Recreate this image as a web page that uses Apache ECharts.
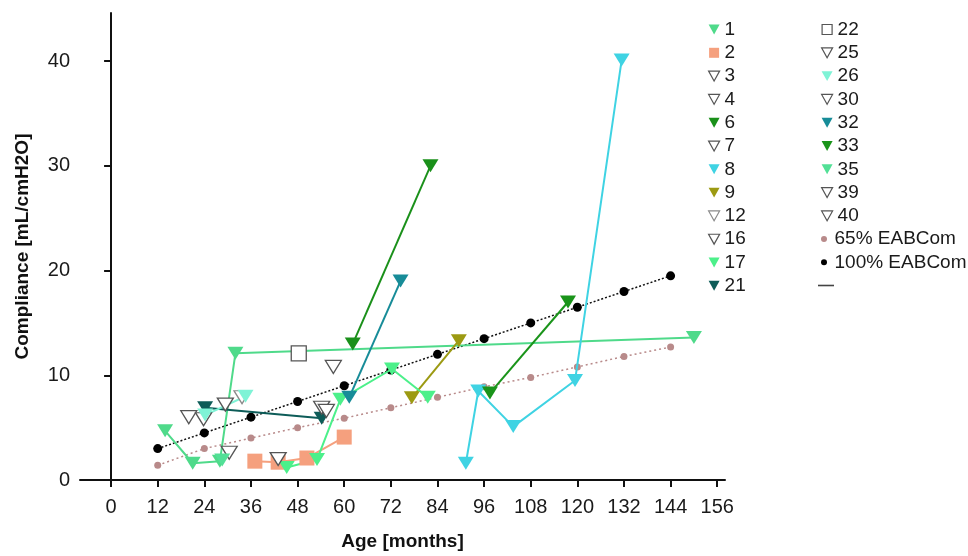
<!DOCTYPE html>
<html><head><meta charset="utf-8">
<script src="https://cdn.jsdelivr.net/npm/echarts@6/dist/echarts.min.js"></script>
<style>html,body{margin:0;padding:0;background:#fff}#c{width:968px;height:556px}</style>
</head><body><div id="c"></div>
<script>
// ---- data ----
const xTicks = [0,12,24,36,48,60,72,84,96,108,120,132,144,156];
const yTicks = [0,10,20,30,40];
const eabMonths = [12,24,36,48,60,72,84,96,108,120,132,144];
const eab100 = [3.0,4.5,6.0,7.5,9.0,10.5,12.0,13.5,15.0,16.5,18.0,19.5];
const eab65  = [1.4,3.0,4.0,5.0,5.9,6.9,7.9,8.9,9.8,10.8,11.8,12.7];

const p1  = [[13.9,4.7],[21,1.6],[28,1.8],[32,12.1],[150,13.6]];
const p2  = [[37,1.8],[43,1.7],[50.4,2.1],[60,4.1]];
const p3  = [[20,6.0]];
const p4  = [[23.8,5.8]];
const p6  = [[62.2,13.0],[82.2,30.0]];
const p7  = [[29.4,7.2]];
const p8  = [[91.3,1.6],[94.5,8.5],[103.5,5.1],[119.4,9.5],[131.4,40.1]];
const p9  = [[77.4,7.85],[89.5,13.3]];
const p12 = [[33.7,7.9]];
const p16 = [[30.4,2.6]];
const p17 = [[45.2,1.2],[53,1.95],[59,7.7],[72.3,10.6],[81.5,7.9]];
const p21 = [[24.2,6.9],[54.2,5.9]];
const p22 = [[48.3,12.1]];
const p25 = [[43,2.0]];
const p26 = [[24.2,6.2],[34.6,8.0]];
const p30 = [[54.2,6.9]];
const p32 = [[61.3,7.9],[74.5,19.0]];
const p33 = [[97.5,8.3],[117.6,17.0]];
const p35 = [[28.6,1.9]];
const p39 = [[55.4,6.6]];
const p40 = [[57.2,10.8]];

const legendCol1 = ['1','2','3','4','6','7','8','9','12','16','17','21'];
const legendCol2 = ['22','25','26','30','32','33','35','39','40'];

// ---- styling ----
const patients = [
  {name:'1',  data:p1,  kind:'tri',  color:'#4fda8a'},
  {name:'2',  data:p2,  kind:'sq',   color:'#f5a07e'},
  {name:'3',  data:p3,  kind:'open', color:'#555'},
  {name:'4',  data:p4,  kind:'open', color:'#555'},
  {name:'6',  data:p6,  kind:'tri',  color:'#1a901a'},
  {name:'7',  data:p7,  kind:'open', color:'#555'},
  {name:'8',  data:p8,  kind:'tri',  color:'#3fd3e3'},
  {name:'9',  data:p9,  kind:'tri',  color:'#9c9a12'},
  {name:'12', data:p12, kind:'open', color:'#8a8a8a'},
  {name:'16', data:p16, kind:'open', color:'#555'},
  {name:'17', data:p17, kind:'tri',  color:'#4cf08a'},
  {name:'21', data:p21, kind:'tri',  color:'#0d5c58'},
  {name:'22', data:p22, kind:'opensq', color:'#555'},
  {name:'25', data:p25, kind:'open', color:'#555'},
  {name:'26', data:p26, kind:'tri',  color:'#7ff3d6'},
  {name:'30', data:p30, kind:'open', color:'#555'},
  {name:'32', data:p32, kind:'tri',  color:'#178c98'},
  {name:'33', data:p33, kind:'tri',  color:'#1a941a'},
  {name:'35', data:p35, kind:'tri',  color:'#52e096'},
  {name:'39', data:p39, kind:'open', color:'#555'},
  {name:'40', data:p40, kind:'open', color:'#555'}
];

const TRI = 'path://M0,0L10,0L5,9Z';
const SQ = 'path://M0,0H10V10H0Z';
const FONT = 'Arial, "Liberation Sans", Helvetica, sans-serif';

const series = [];
const legendItem = {};
patients.forEach(p => {
  const s = {
    name: p.name, type: 'line', data: p.data, z: 3,
    showSymbol: true, animation: false,
    lineStyle: {color: p.color, width: 2},
    emphasis: {disabled: true}
  };
  if (p.kind === 'tri') {
    s.symbol = 'triangle'; s.symbolRotate = 180; s.symbolSize = [16, 13];
    s.itemStyle = {color: p.color};
    legendItem[p.name] = {name: p.name, icon: TRI, itemStyle: {color: p.color, borderWidth: 0}};
  } else if (p.kind === 'open') {
    s.symbol = 'triangle'; s.symbolRotate = 180; s.symbolSize = [16, 13];
    s.itemStyle = {color: '#fff', borderColor: p.color, borderWidth: 1.3};
    legendItem[p.name] = {name: p.name, icon: TRI, itemStyle: {color: '#fff', borderColor: p.color, borderWidth: 1.2}};
  } else if (p.kind === 'sq') {
    s.symbol = 'rect'; s.symbolSize = 15;
    s.itemStyle = {color: p.color};
    legendItem[p.name] = {name: p.name, icon: SQ, itemStyle: {color: p.color, borderWidth: 0}};
  } else {
    s.symbol = 'rect'; s.symbolSize = 15;
    s.itemStyle = {color: '#fff', borderColor: p.color, borderWidth: 1.3};
    legendItem[p.name] = {name: p.name, icon: SQ, itemStyle: {color: '#fff', borderColor: p.color, borderWidth: 1.2}};
  }
  series.push(s);
});

series.unshift({
  name: '65% EABCom', type: 'line', z: 2, animation: false,
  data: eabMonths.map((m, i) => [m, eab65[i]]),
  symbol: 'circle', symbolSize: 7,
  itemStyle: {color: '#b88a8a'},
  lineStyle: {color: '#b88a8a', width: 1.5, type: [2, 3]}
});
series.unshift({
  name: '100% EABCom', type: 'line', z: 2, animation: false,
  data: eabMonths.map((m, i) => [m, eab100[i]]),
  symbol: 'circle', symbolSize: 9,
  itemStyle: {color: '#000'},
  lineStyle: {color: '#111', width: 1.5, type: [2, 2]}
});
series.push({name: ' ', type: 'line', data: [], lineStyle: {color: '#444'}, itemStyle: {color: '#444'}});

const legendText = {fontSize: 19, color: '#1a1a1a', fontFamily: FONT};
const legendBase = {orient: 'vertical', padding: 0, itemGap: 4.3, itemWidth: 11, itemHeight: 10,
  textStyle: legendText, selectedMode: false, symbolKeepAspect: true};

const option = {
  backgroundColor: '#fff',
  animation: false,
  grid: {left: 80, right: 243, top: 13, bottom: 74},
  xAxis: {
    type: 'value', min: -8, max: 158,
    name: 'Age [months]', nameLocation: 'middle', nameGap: 52,
    nameTextStyle: {fontSize: 19, fontWeight: 'bold', color: '#111', fontFamily: FONT},
    axisLine: {show: true, lineStyle: {color: '#111', width: 2}},
    axisTick: {show: true, length: 7, lineStyle: {color: '#111', width: 2}, customValues: xTicks},
    axisLabel: {fontSize: 20, color: '#1a1a1a', margin: 17, fontFamily: FONT, customValues: xTicks},
    splitLine: {show: false}
  },
  yAxis: {
    type: 'value', min: 0, max: 44.6,
    name: 'Compliance [mL/cmH2O]', nameLocation: 'middle', nameGap: 48,
    nameTextStyle: {fontSize: 19, fontWeight: 'bold', color: '#111', fontFamily: FONT},
    axisLine: {show: true, lineStyle: {color: '#111', width: 2}},
    axisTick: {show: true, length: 7, lineStyle: {color: '#111', width: 2}, customValues: yTicks},
    axisLabel: {fontSize: 20, color: '#1a1a1a', margin: 10, fontFamily: FONT, customValues: yTicks},
    splitLine: {show: false}
  },
  legend: [
    Object.assign({}, legendBase, {left: 708, top: 20, data: legendCol1.map(n => legendItem[n])}),
    Object.assign({}, legendBase, {left: 821, top: 20, data: legendCol2.map(n => legendItem[n])}),
    Object.assign({}, legendBase, {left: 821, top: 229.5, itemHeight: 6,
      data: [{name: '65% EABCom', icon: 'circle', itemStyle: {color: '#b88a8a', borderWidth: 0}},
             {name: '100% EABCom', icon: 'circle', itemStyle: {color: '#000', borderWidth: 0}}]}),
    Object.assign({}, legendBase, {left: 818, top: 276, itemWidth: 16,
      data: [{name: ' ', icon: 'path://M0,0H16V1.6H0Z', itemStyle: {color: '#444', borderWidth: 0}}]})
  ],
  series: series
};
const chart = echarts.init(document.getElementById('c'), null, {renderer: 'canvas'});
chart.setOption(option);
</script></body></html>
